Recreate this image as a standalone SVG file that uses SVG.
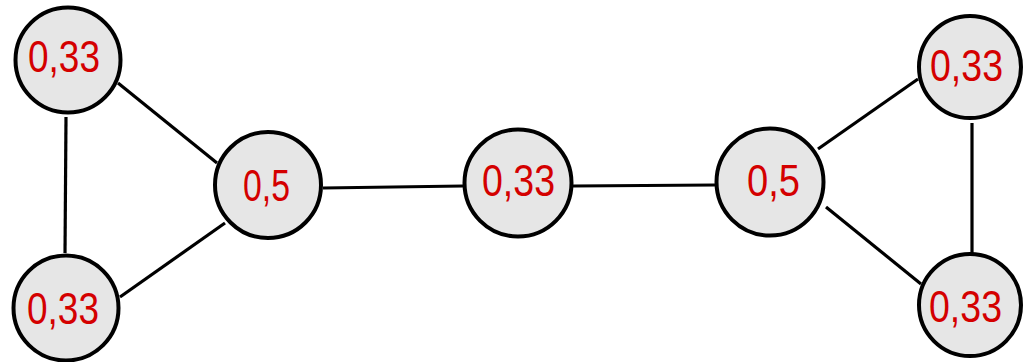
<svg xmlns="http://www.w3.org/2000/svg" width="1028" height="362" viewBox="0 0 1028 362">
<style>
.n{fill:#e6e6e6;stroke:#000;stroke-width:4}
.e{stroke:#000;stroke-width:3.2;fill:none}
.t{font-family:"Liberation Sans",Arial,sans-serif;font-size:44px;fill:#d40000}
</style>
<rect width="1028" height="362" fill="#fff"/>
<g id="connectors">
<line class="e" x1="118" y1="83" x2="217" y2="163"/>
<line class="e" x1="66" y1="117" x2="65" y2="253"/>
<line class="e" x1="120" y1="297" x2="225" y2="223"/>
<line class="e" x1="323" y1="188" x2="463" y2="186"/>
<line class="e" x1="573" y1="186" x2="715" y2="185"/>
<line class="e" x1="818" y1="149" x2="918" y2="79"/>
<line class="e" x1="826" y1="207" x2="921" y2="284"/>
<line class="e" x1="972" y1="123" x2="972" y2="253"/>
</g>
<g id="n1"><circle class="n" cx="68" cy="60" r="52.5"/><text class="t" x="28" y="72" textLength="72" lengthAdjust="spacingAndGlyphs">0,33</text></g>
<g id="n2"><circle class="n" cx="66" cy="308" r="52.5"/><text class="t" x="27" y="324" textLength="72" lengthAdjust="spacingAndGlyphs">0,33</text></g>
<g id="n3"><circle class="n" cx="268" cy="185" r="53"/><text class="t" x="243" y="201" textLength="47" lengthAdjust="spacingAndGlyphs">0,5</text></g>
<g id="n4"><circle class="n" cx="518" cy="183" r="53.5"/><text class="t" x="482" y="196" textLength="73" lengthAdjust="spacingAndGlyphs">0,33</text></g>
<g id="n5"><circle class="n" cx="770" cy="182" r="53.5"/><text class="t" x="747" y="196" textLength="53" lengthAdjust="spacingAndGlyphs">0,5</text></g>
<g id="n6"><circle class="n" cx="970" cy="67" r="51"/><text class="t" x="930" y="81" textLength="73" lengthAdjust="spacingAndGlyphs">0,33</text></g>
<g id="n7"><circle class="n" cx="970" cy="305" r="51"/><text class="t" x="929" y="322" textLength="73" lengthAdjust="spacingAndGlyphs">0,33</text></g>
</svg>
